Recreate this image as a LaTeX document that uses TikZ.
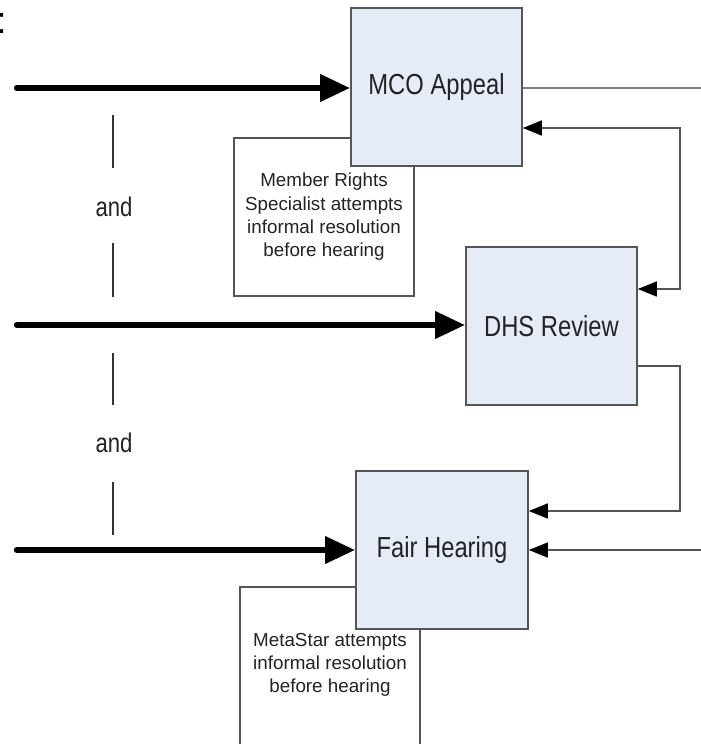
\documentclass[tikz,border=0pt]{standalone}
\usepackage{fontspec}
\setmainfont{Liberation Sans}
\usetikzlibrary{arrows.meta}
\definecolor{boxfill}{RGB}{230,236,247}
\definecolor{edgegray}{RGB}{85,85,85}
\definecolor{txtgray}{RGB}{35,35,35}
\begin{document}
\begin{tikzpicture}[x=1pt,y=-1pt,
  procbox/.style={draw=edgegray, line width=1.6pt, fill=boxfill, inner sep=0pt,
    minimum width=171pt, minimum height=158pt, text=txtgray,
    font=\fontsize{29}{34}\selectfont},
  notebox/.style={draw=edgegray, line width=1.3pt, fill=white, inner sep=0pt,
    minimum width=180pt},
  notetext/.style={align=center, text=txtgray, inner sep=0pt,
    font=\fontsize{18.8}{23.3}\selectfont},
  andtext/.style={text=txtgray, inner sep=0pt, font=\fontsize{27}{30}\selectfont},
  bigarrow/.style={line width=6.5pt, line cap=round, -{Triangle[length=30pt,width=26pt]}},
  thinline/.style={draw=edgegray, line width=1.5pt},
  thinarrow/.style={thinline, -{Triangle[length=19pt,width=15pt,color=black]}},
  twoarrow/.style={thinline, {Triangle[length=19pt,width=15pt,color=black]}-{Triangle[length=19pt,width=15pt,color=black]}},
  sepline/.style={draw=black!80, line width=1.2pt}
]
\useasboundingbox (0,0) rectangle (701,744);

% cut-off character at top left
\node[anchor=base west, inner sep=0pt, font=\fontsize{38}{40}\selectfont] (frag) at (-3.5,33) {:};

% note boxes (behind)
\node[notebox, minimum height=158pt, notetext] (member) at (324,217)
  {Member Rights\\Specialist attempts\\informal resolution\\before hearing};
\node[notebox, minimum height=180pt] (metabox) at (330,677) {};
\node[notetext] (metatext) at (330,665)
  {MetaStar attempts\\informal resolution\\before hearing};

% process boxes
\node[procbox] (mco) at (436.5,87) {\scalebox{0.82}[1]{MCO Appeal}};
\node[procbox] (dhs) at (551.5,326) {\scalebox{0.82}[1]{DHS Review}};
\node[procbox, minimum width=172pt] (fair) at (442,550) {\scalebox{0.82}[1]{Fair Hearing}};

% "and" labels with separators
\node[andtext] (and1) at (114,207) {\scalebox{0.82}[1]{and}};
\node[andtext] (and2) at (114,443) {\scalebox{0.82}[1]{and}};
\coordinate (s1a) at (113,115); \coordinate (s1b) at (113,168);
\coordinate (s2a) at (113,243); \coordinate (s2b) at (113,297);
\coordinate (s3a) at (113,353); \coordinate (s3b) at (113,405);
\coordinate (s4a) at (113,482); \coordinate (s4b) at (113,535);
\draw[sepline] (s1a) -- (s1b);
\draw[sepline] (s2a) -- (s2b);
\draw[sepline] (s3a) -- (s3b);
\draw[sepline] (s4a) -- (s4b);

% thick input arrows
\coordinate (in1) at (17,88);
\coordinate (in2) at (17,325);
\coordinate (in3) at (17,550);
\draw[bigarrow] (in1) -- (in1 -| mco.west);
\draw[bigarrow] (in2) -- (in2 -| dhs.west);
\draw[bigarrow] (in3) -- (in3 -| fair.west);

% MCO output line
\coordinate (out1) at (701,88);
\draw[draw=gray, line width=2.2pt] (out1 -| mco.east) -- (out1);

% feedback between MCO and DHS
\coordinate (fb1) at (680,128);
\coordinate (fb2) at (680,289);
\draw[twoarrow] (fb1 -| mco.east) -- (fb1) -- (fb2) -- (fb2 -| dhs.east);

% DHS to Fair Hearing
\coordinate (d1) at (680,366);
\coordinate (d2) at (680,511);
\draw[thinarrow] (d1 -| dhs.east) -- (d1) -- (d2) -- (d2 -| fair.east);

% right input to Fair Hearing
\coordinate (r1) at (701,550);
\draw[thinarrow] (r1) -- (r1 -| fair.east);
\end{tikzpicture}
\end{document}
